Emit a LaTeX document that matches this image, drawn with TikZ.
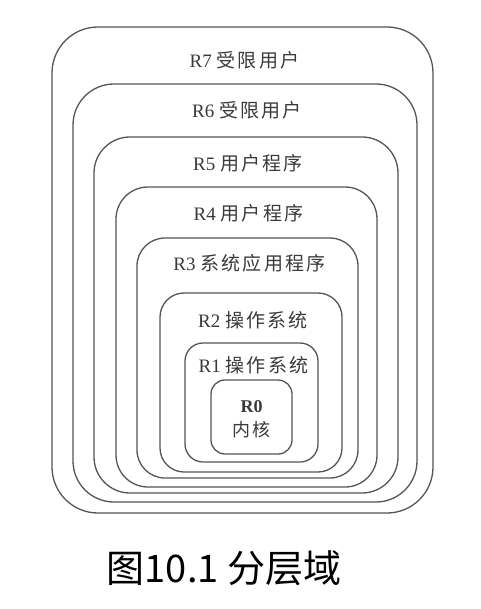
\documentclass[tikz,border=0pt]{standalone}
\usepackage{fontspec}
\setmainfont{Liberation Serif}
\newfontfamily\cjk[LetterSpace=12]{Noto Sans CJK SC}
\newfontfamily\capfont{Noto Sans CJK SC}
\usetikzlibrary{positioning}
\definecolor{ringgray}{HTML}{555555}
\definecolor{txtgray}{HTML}{3A3A3A}

\begin{document}
\begin{tikzpicture}[x=1pt, y=-1pt, line width=1.3pt]

% Background
\fill[white] (0,0) rectangle (480,609);

% =========== Nested rings R7 ... R1 ===========
\foreach \lx/\ty/\rx/\by/\rad/\ring/\ly/\txt in {
  52/27/433/513/46/7/60/受限用户,
  73/84/417/502/41/6/110/受限用户,
  94/137/398/493/36/5/163/用户程序,
  116/187/377/487/32/4/213/用户程序,
  137/238/358/478/28/3/263/系统应用程序,
  160/293/342/472/24/2/320/操作系统,
  185/343/318/462/18/1/365/操作系统} {
  \draw[ringgray, rounded corners=\rad pt] (\lx,\ty) rectangle (\rx,\by);
  \node[font=\fontsize{19}{22}\selectfont, text=txtgray] (lab\ring) at ({(\lx+\rx)/2+2},\ly)
    {R\ring\ {\cjk\txt}};
}

% Innermost ring R0
\draw[ringgray, rounded corners=14pt] (211,380) rectangle (292,454);
\node[font=\fontsize{18}{20}\selectfont\bfseries, text=txtgray] (lab0) at (251.5,407) {R0};
\node[font=\fontsize{18}{20}\selectfont\cjk, text=txtgray, below=0pt of lab0] (kernel) {内核};

% Caption
\node[font=\fontsize{38}{42}\selectfont\capfont, text=black] (caption) at (224,568) {图10.1 分层域};

\end{tikzpicture}
\end{document}
